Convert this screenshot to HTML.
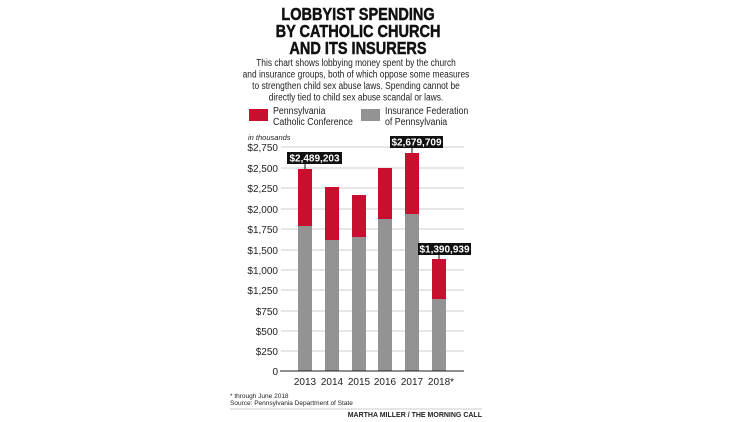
<!DOCTYPE html>
<html><head><meta charset="utf-8"><style>
html,body{margin:0;padding:0;background:#fff;}
svg{display:block;font-family:"Liberation Sans",sans-serif;}
</style></head><body>
<svg width="750" height="422" viewBox="0 0 750 422" xmlns="http://www.w3.org/2000/svg">
<rect width="750" height="422" fill="#fff"/>
<g font-weight="bold" font-size="17.5" text-anchor="middle" fill="#111" stroke="#111" stroke-width="0.5" transform="translate(358,0) scale(0.83,1)">
<text x="0" y="20">LOBBYIST SPENDING</text>
<text x="0" y="37">BY CATHOLIC CHURCH</text>
<text x="0" y="54">AND ITS INSURERS</text>
</g>
<g font-size="10.5" text-anchor="middle" fill="#222" transform="translate(356,0) scale(0.8,1)">
<text x="0" y="66">This chart shows lobbying money spent by the church</text>
<text x="0" y="77.5">and insurance groups, both of which oppose some measures</text>
<text x="0" y="89">to strengthen child sex abuse laws. Spending cannot be</text>
<text x="0" y="100.5">directly tied to child sex abuse scandal or laws.</text>
</g>
<rect x="249" y="109" width="19" height="12" fill="#c8102e"/>
<rect x="361" y="109" width="19" height="12" fill="#939393"/>
<g font-size="10.5" fill="#222">
<text transform="translate(273,114) scale(0.84,1)">Pennsylvania</text>
<text transform="translate(273,125) scale(0.84,1)">Catholic Conference</text>
<text transform="translate(385,114) scale(0.84,1)">Insurance Federation</text>
<text transform="translate(385,125) scale(0.84,1)">of Pennsylvania</text>
</g>
<text x="248" y="140" font-size="7.5" font-style="italic" fill="#222">in thousands</text>
<g stroke="#ccc" stroke-width="1">
<line x1="281" x2="464" y1="147" y2="147"/><line x1="281" x2="464" y1="168" y2="168"/>
<line x1="281" x2="464" y1="188" y2="188"/><line x1="281" x2="464" y1="209" y2="209"/>
<line x1="281" x2="464" y1="229" y2="229"/><line x1="281" x2="464" y1="250" y2="250"/>
<line x1="281" x2="464" y1="270" y2="270"/><line x1="281" x2="464" y1="290" y2="290"/>
<line x1="281" x2="464" y1="311" y2="311"/><line x1="281" x2="464" y1="331" y2="331"/>
<line x1="281" x2="464" y1="351" y2="351"/>
</g>
<g font-size="10" fill="#222" text-anchor="end">
<text x="278" y="151">$2,750</text><text x="278" y="172">$2,500</text>
<text x="278" y="192">$2,250</text><text x="278" y="213">$2,000</text>
<text x="278" y="233">$1,750</text><text x="278" y="254">$1,500</text>
<text x="278" y="274">$1,000</text><text x="278" y="294">$1,250</text>
<text x="278" y="315">$750</text><text x="278" y="335">$500</text>
<text x="278" y="355">$250</text><text x="278" y="375">0</text>
</g>
<g fill="#c8102e">
<rect x="298" y="169" width="14" height="57"/>
<rect x="325" y="187" width="14" height="53"/>
<rect x="352" y="195" width="14" height="42"/>
<rect x="378" y="168" width="14" height="51"/>
<rect x="405" y="153" width="14" height="61"/>
<rect x="432" y="259" width="14" height="40"/>
</g>
<g fill="#939393">
<rect x="298" y="226" width="14" height="145"/>
<rect x="325" y="240" width="14" height="131"/>
<rect x="352" y="237" width="14" height="134"/>
<rect x="378" y="219" width="14" height="152"/>
<rect x="405" y="214" width="14" height="157"/>
<rect x="432" y="299" width="14" height="72"/>
</g>
<line x1="280" x2="464" y1="371" y2="371" stroke="#222" stroke-width="1"/>
<g font-size="10" fill="#222" text-anchor="middle">
<text x="305" y="385">2013</text><text x="332" y="385">2014</text>
<text x="359" y="385">2015</text><text x="385" y="385">2016</text>
<text x="412" y="385">2017</text><text x="441" y="385">2018*</text>
</g>
<g>
<rect x="287" y="152" width="55" height="12" fill="#111"/>
<line x1="305" x2="305" y1="164" y2="169" stroke="#111"/>
<rect x="390" y="136" width="53" height="12" fill="#111"/>
<line x1="412" x2="412" y1="148" y2="153" stroke="#111"/>
<rect x="418" y="243" width="53" height="12" fill="#111"/>
<line x1="439" x2="439" y1="255" y2="259" stroke="#111"/>
</g>
<g font-size="10" font-weight="bold" fill="#fff" text-anchor="middle">
<text x="314.5" y="161.5">$2,489,203</text>
<text x="416.5" y="145.5">$2,679,709</text>
<text x="444.5" y="252.5">$1,390,939</text>
</g>
<g font-size="6.5" fill="#222">
<text x="230" y="398">* through June 2018</text>
<text x="230" y="405">Source: Pennsylvania Department of State</text>
</g>
<line x1="230" x2="482" y1="409" y2="409" stroke="#bbb" stroke-width="0.8"/>
<text x="482" y="417" font-size="7" font-weight="bold" fill="#222" text-anchor="end">MARTHA MILLER / THE MORNING CALL</text>
</svg>
</body></html>
